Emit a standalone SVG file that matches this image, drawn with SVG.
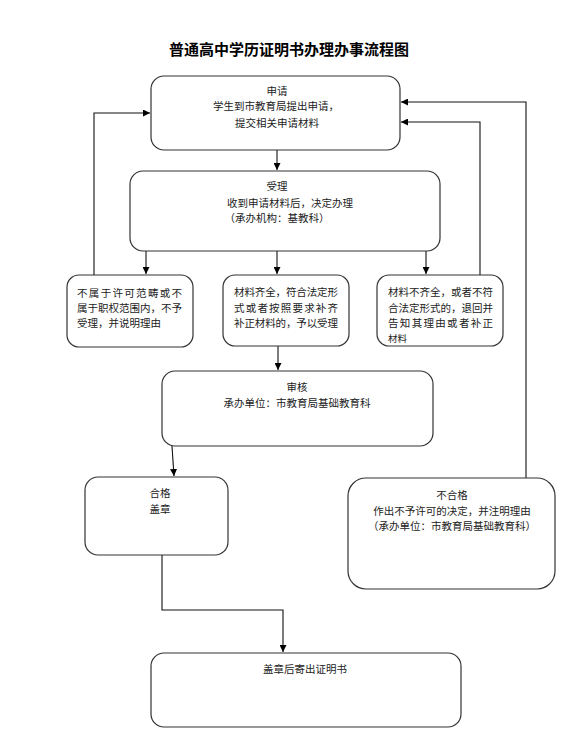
<svg xmlns="http://www.w3.org/2000/svg" width="579" height="753" viewBox="0 0 579 753">
<defs>
<marker id="ah" viewBox="0 0 10 10" refX="10" refY="5" markerWidth="7" markerHeight="7" markerUnits="userSpaceOnUse" orient="auto">
<path d="M0,0 L10,5 L0,10 z" fill="#000"/>
</marker>
<style>
.box{fill:#fff;stroke:#333;stroke-width:1.2}
.t{font-family:"Noto Sans CJK SC","Noto Sans",sans-serif;font-size:10.5px;fill:#222}
.c{text-anchor:middle}
.ln{fill:none;stroke:#111;stroke-width:1.1}
.ttl{font-family:"Noto Sans CJK SC","Noto Sans",sans-serif;font-size:15px;font-weight:bold;fill:#000;text-anchor:middle}
</style>
</defs>
<rect width="579" height="753" fill="#fff"/>
<text class="ttl" x="289" y="55">普通高中学历证明书办理办事流程图</text>

<g id="connectors">
<path class="ln" d="M277,150 L277,170" marker-end="url(#ah)"/>
<path class="ln" d="M146,251 L146,274" marker-end="url(#ah)"/>
<path class="ln" d="M277,251 L277,274" marker-end="url(#ah)"/>
<path class="ln" d="M426,251 L426,274" marker-end="url(#ah)"/>
<path class="ln" d="M94,275 L94,113 L150,113" marker-end="url(#ah)"/>
<path class="ln" d="M480,275 L480,122 L401,122" marker-end="url(#ah)"/>
<path class="ln" d="M526,478 L526,102 L401,102" marker-end="url(#ah)"/>
<path class="ln" d="M278,346 L278,370" marker-end="url(#ah)"/>
<path class="ln" d="M172,446 L174,476" marker-end="url(#ah)"/>
<path class="ln" d="M162,555 L162,610 L283,610 L283,652" marker-end="url(#ah)"/>
</g>

<g id="n1">
<rect class="box" x="151" y="76" width="249" height="74" rx="13"/>
<text class="t c" x="277" y="95">申请</text>
<text class="t c" x="276" y="110">学生到市教育局提出申请，</text>
<text class="t c" x="277" y="127">提交相关申请材料</text>
</g>

<g id="n2">
<rect class="box" x="130" y="171" width="310" height="80" rx="13"/>
<text class="t c" x="277" y="190">受理</text>
<text class="t c" x="290" y="207">收到申请材料后，决定办理</text>
<text class="t c" x="277" y="222">（承办机构：基教科）</text>
</g>

<g id="n3">
<rect class="box" x="67" y="275" width="126" height="72" rx="12"/>
<text class="t" x="77" y="297" textLength="105" lengthAdjust="spacing">不属于许可范畴或不</text>
<text class="t" x="77" y="312" textLength="105" lengthAdjust="spacing">属于职权范围内，不予</text>
<text class="t" x="77" y="327">受理，并说明理由</text>
</g>

<g id="n4">
<rect class="box" x="223" y="275" width="126" height="71" rx="12"/>
<text class="t" x="234" y="296" textLength="104" lengthAdjust="spacing">材料齐全，符合法定形</text>
<text class="t" x="234" y="312" textLength="104" lengthAdjust="spacing">式或者按照要求补齐</text>
<text class="t" x="234" y="327" textLength="104" lengthAdjust="spacing">补正材料的，予以受理</text>
</g>

<g id="n5">
<rect class="box" x="377" y="275" width="126" height="71" rx="12"/>
<text class="t" x="388" y="296" textLength="105" lengthAdjust="spacing">材料不齐全，或者不符</text>
<text class="t" x="388" y="312" textLength="105" lengthAdjust="spacing">合法定形式的，退回并</text>
<text class="t" x="388" y="327" textLength="105" lengthAdjust="spacing">告知其理由或者补正</text>
<text class="t" x="388" y="342" style="font-size:9.5px">材料</text>
</g>

<g id="n6">
<rect class="box" x="162" y="371" width="271" height="75" rx="13"/>
<text class="t c" x="297" y="391">审核</text>
<text class="t c" x="297" y="407">承办单位：市教育局基础教育科</text>
</g>

<g id="n7">
<rect class="box" x="85" y="477" width="143" height="78" rx="13"/>
<text class="t c" x="160" y="497">合格</text>
<text class="t c" x="160" y="513">盖章</text>
</g>

<g id="n8">
<rect class="box" x="348" y="478" width="207" height="111" rx="18"/>
<text class="t c" x="452" y="499">不合格</text>
<text class="t c" x="452" y="515">作出不予许可的决定，并注明理由</text>
<text class="t c" x="452" y="530">（承办单位：市教育局基础教育科）</text>
</g>

<g id="n9">
<rect class="box" x="151" y="653" width="310" height="74" rx="13"/>
<text class="t c" x="305" y="673">盖章后寄出证明书</text>
</g>
</svg>
